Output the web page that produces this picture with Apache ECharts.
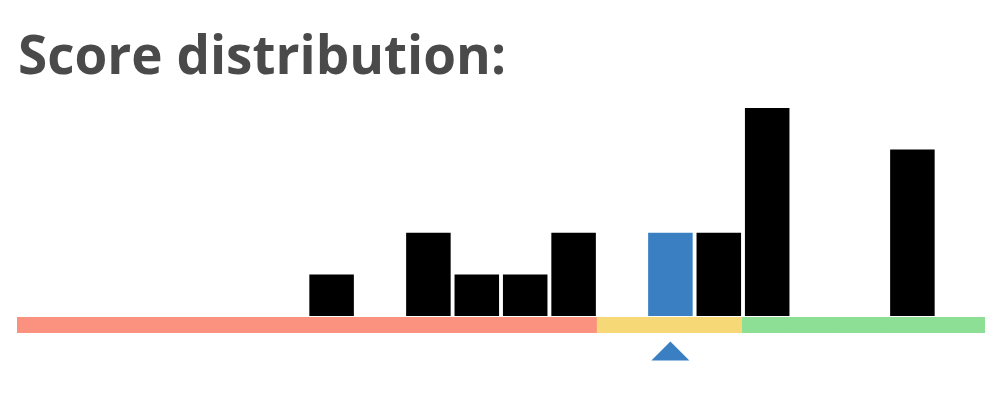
<!DOCTYPE html>
<html>
<head>
<meta charset="utf-8">
<script src="https://cdn.jsdelivr.net/npm/echarts@6/dist/echarts.min.js"></script>
<style>
  html, body { margin: 0; padding: 0; background: #fff; }
  #chart { width: 1000px; height: 400px; }
</style>
</head>
<body>
<div id="chart"></div>
<script>
// scores 0..19, count of answers per score
const scores = ["0","1","2","3","4","5","6","7","8","9","10","11","12","13","14","15","16","17","18","19"];
const counts = [0, 0, 0, 0, 0, 0, 1, 0, 2, 1, 1, 2, 0, 2, 2, 5, 0, 0, 4, 0];
const myScore = "13";
// colour zones of the baseline: [first score, last score, colour]
const zones = [
  ["0", "11", "#fa927f"],
  ["12", "14", "#f7d877"],
  ["15", "19", "#8cdf95"]
];

const zoneColor = score => {
  const i = scores.indexOf(score);
  const zone = zones.find(z => i >= scores.indexOf(z[0]) && i <= scores.indexOf(z[1]));
  return zone ? zone[2] : "#ccc";
};

const chart = echarts.init(document.getElementById("chart"));
chart.setOption({
  animation: false,
  title: {
    text: "Score distribution:",
    left: 13,
    top: 27,
    textStyle: {
      fontFamily: "Open Sans",
      fontWeight: "bold",
      fontSize: 53,
      color: "#4a4a4a"
    }
  },
  grid: [
    { left: 17, right: 15, top: 108, bottom: 84 },
    { left: 17, right: 15, top: 317, height: 16 }
  ],
  xAxis: [
    { type: "category", gridIndex: 0, data: scores, show: false },
    { type: "category", gridIndex: 1, data: scores, show: false }
  ],
  yAxis: [
    { type: "value", gridIndex: 0, min: 0, max: 5, show: false },
    { type: "value", gridIndex: 1, min: 0, max: 1, show: false }
  ],
  series: [
    {
      type: "bar",
      xAxisIndex: 0,
      yAxisIndex: 0,
      barCategoryGap: "8%",
      data: counts.map((v, i) => ({
        value: v,
        itemStyle: { color: scores[i] === myScore ? "#3a7fc1" : "#000" }
      }))
    },
    {
      type: "bar",
      xAxisIndex: 1,
      yAxisIndex: 1,
      barWidth: "104%",
      silent: true,
      data: scores.map(s => ({ value: 1, itemStyle: { color: zoneColor(s) } })),
      markPoint: {
        symbol: "triangle",
        symbolSize: [38, 19],
        symbolOffset: [0, 18],
        itemStyle: { color: "#3a7fc1" },
        label: { show: false },
        data: [{ coord: [myScore, 0] }]
      }
    }
  ]
});
</script>
</body>
</html>
